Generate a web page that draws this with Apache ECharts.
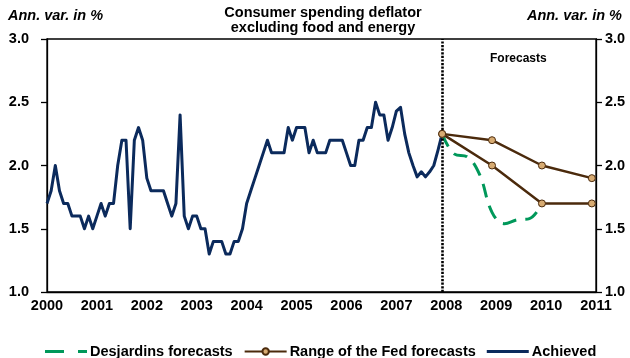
<!DOCTYPE html>
<html>
<head>
<meta charset="utf-8">
<script src="https://cdn.jsdelivr.net/npm/echarts@6/dist/echarts.min.js"></script>
<style>
  html, body { margin: 0; padding: 0; background: #fff; }
  #chart { width: 630px; height: 358px; }
</style>
</head>
<body>
<div id="chart"></div>
<script>
// Core PCE deflator, annual % change, monthly from January 2000 to December 2007
const achievedStartYear = 2000;
const achieved = [
  1.7, 1.8, 2.0, 1.8, 1.7, 1.7, 1.6, 1.6, 1.6, 1.5, 1.6, 1.5,
  1.6, 1.7, 1.6, 1.7, 1.7, 2.0, 2.2, 2.2, 1.5, 2.2, 2.3, 2.2,
  1.9, 1.8, 1.8, 1.8, 1.8, 1.7, 1.6, 1.7, 2.4, 1.6, 1.5, 1.6,
  1.6, 1.5, 1.5, 1.3, 1.4, 1.4, 1.4, 1.3, 1.3, 1.4, 1.4, 1.5,
  1.7, 1.8, 1.9, 2.0, 2.1, 2.2, 2.1, 2.1, 2.1, 2.1, 2.3, 2.2,
  2.3, 2.3, 2.3, 2.1, 2.2, 2.1, 2.1, 2.1, 2.2, 2.2, 2.2, 2.2,
  2.1, 2.0, 2.0, 2.2, 2.2, 2.3, 2.3, 2.5, 2.4, 2.4, 2.2, 2.3,
  2.43, 2.46, 2.25, 2.1, 2.0, 1.91, 1.95, 1.91, 1.95, 2.0, 2.12, 2.25
];

// Desjardins quarterly forecasts, 2007Q4 to 2009Q4
const desjardinsQuarters = ['2007Q4', '2008Q1', '2008Q2', '2008Q3', '2008Q4', '2009Q1', '2009Q2', '2009Q3', '2009Q4'];
const desjardins = [2.25, 2.09, 2.07, 1.93, 1.63, 1.54, 1.57, 1.58, 1.7];

// Fed forecast range (Q4 of each year)
const fedQuarters = ['2007Q4', '2008Q4', '2009Q4', '2010Q4'];
const fedUpper = [2.25, 2.2, 2.0, 1.9];
const fedLower = [2.25, 2.0, 1.7, 1.7];

// Forecast horizon starts after the last observed month
const forecastStart = '2007Q4';

const yTicks = [1.0, 1.5, 2.0, 2.5, 3.0];
const xYears = [2000, 2001, 2002, 2003, 2004, 2005, 2006, 2007, 2008, 2009, 2010, 2011];

// Quarter label -> decimal year at the last month of the quarter
function quarterToYear(q) {
  const y = parseInt(q.slice(0, 4), 10);
  const n = parseInt(q.slice(5), 10);
  return y + (n * 3 - 1) / 12;
}

const achievedData = achieved.map((v, i) => [achievedStartYear + i / 12, v]);
const desjardinsData = desjardins.map((v, i) => [quarterToYear(desjardinsQuarters[i]), v]);
const fedUpperData = fedUpper.map((v, i) => [quarterToYear(fedQuarters[i]), v]);
const fedLowerData = fedLower.map((v, i) => [quarterToYear(fedQuarters[i]), v]);

const FONT = '"Liberation Sans", Arial, sans-serif';
const NAVY = '#0b2a5c';
const BROWN = '#4b2a0c';
const GREEN = '#00985a';

const chart = echarts.init(document.getElementById('chart'));

const labelStyle = { color: '#000', fontFamily: FONT, fontWeight: 'bold', fontSize: 14.5 };

const yAxisBase = {
  type: 'value',
  min: yTicks[0],
  max: yTicks[yTicks.length - 1],
  interval: 0.5,
  axisLine: { show: true, lineStyle: { color: '#000', width: 1.3 } },
  axisTick: { show: true, length: 6, lineStyle: { color: '#000', width: 1.3 } },
  splitLine: { show: false },
  axisLabel: Object.assign({ formatter: v => v.toFixed(1) }, labelStyle)
};

chart.setOption({
  animation: false,
  backgroundColor: '#fff',
  grid: {
    left: 47, right: 34, top: 39, bottom: 66,
    show: true, borderColor: '#000', borderWidth: 1.3, backgroundColor: 'transparent'
  },
  title: [
    {
      text: 'Consumer spending deflator\nexcluding food and energy',
      left: 318, top: 0, textAlign: 'center',
      textStyle: { fontFamily: FONT, fontWeight: 'bold', fontSize: 14.5, lineHeight: 15, color: '#000' }
    }
  ],
  graphic: [
    { type: 'text', left: 8, top: 8, style: { text: 'Ann. var. in %', font: 'italic bold 14.5px ' + FONT, fill: '#000' } },
    { type: 'text', right: 8, top: 8, style: { text: 'Ann. var. in %', font: 'italic bold 14.5px ' + FONT, fill: '#000' } },
    { type: 'text', left: 490, top: 53, style: { text: 'Forecasts', font: 'bold 12px ' + FONT, fill: '#000' } }
  ],
  legend: {
    top: 339,
    left: 40,
    itemGap: 11,
    itemWidth: 42,
    itemHeight: 8,
    data: [
      { name: 'Desjardins forecasts', icon: 'path://M0,0h19v3h-19zM33,0h9v3h-9z' },
      { name: 'Range of the Fed forecasts' },
      { name: 'Achieved', icon: 'path://M0,0h42v3h-42z' }
    ],
    textStyle: { fontFamily: FONT, fontWeight: 'bold', fontSize: 14.5, color: '#000', padding: [0, 0, 0, -2] }
  },
  xAxis: {
    type: 'value',
    min: xYears[0],
    max: xYears[xYears.length - 1],
    interval: 1,
    axisLine: { show: true, lineStyle: { color: '#000', width: 1.3 } },
    axisTick: { show: false },
    splitLine: { show: false },
    axisLabel: Object.assign({ margin: 6, formatter: v => String(v) }, labelStyle)
  },
  yAxis: [
    Object.assign({}, yAxisBase, { position: 'left', axisLabel: Object.assign({}, yAxisBase.axisLabel, { margin: 18 }) }),
    Object.assign({}, yAxisBase, { position: 'right', axisLabel: Object.assign({}, yAxisBase.axisLabel, { margin: 9 }) })
  ],
  series: [
    {
      name: 'Achieved',
      type: 'line',
      data: achievedData,
      showSymbol: false,
      symbol: 'none',
      lineStyle: { color: NAVY, width: 3, join: 'round' },
      itemStyle: { color: NAVY },
      z: 3,
      markLine: {
        silent: true,
        symbol: 'none',
        label: { show: false },
        lineStyle: { color: '#000', width: 2.6, type: [2.2, 1.4] },
        data: [{ xAxis: quarterToYear(forecastStart) }]
      }
    },
    {
      name: 'Desjardins forecasts',
      type: 'line',
      data: desjardinsData,
      smooth: 0.4,
      showSymbol: false,
      symbol: 'none',
      lineStyle: { color: GREEN, width: 3, type: [14, 9] },
      itemStyle: { color: GREEN },
      z: 4
    },
    {
      name: 'Range of the Fed forecasts',
      type: 'line',
      data: fedUpperData,
      symbol: 'circle',
      symbolSize: 7,
      lineStyle: { color: BROWN, width: 2.5 },
      itemStyle: { color: '#d7ab72', borderColor: BROWN, borderWidth: 1 },
      z: 5
    },
    {
      name: 'Range of the Fed forecasts',
      type: 'line',
      data: fedLowerData,
      symbol: 'circle',
      symbolSize: 7,
      lineStyle: { color: BROWN, width: 2.5 },
      itemStyle: { color: '#d7ab72', borderColor: BROWN, borderWidth: 1 },
      z: 5
    }
  ]
});
</script>
</body>
</html>
